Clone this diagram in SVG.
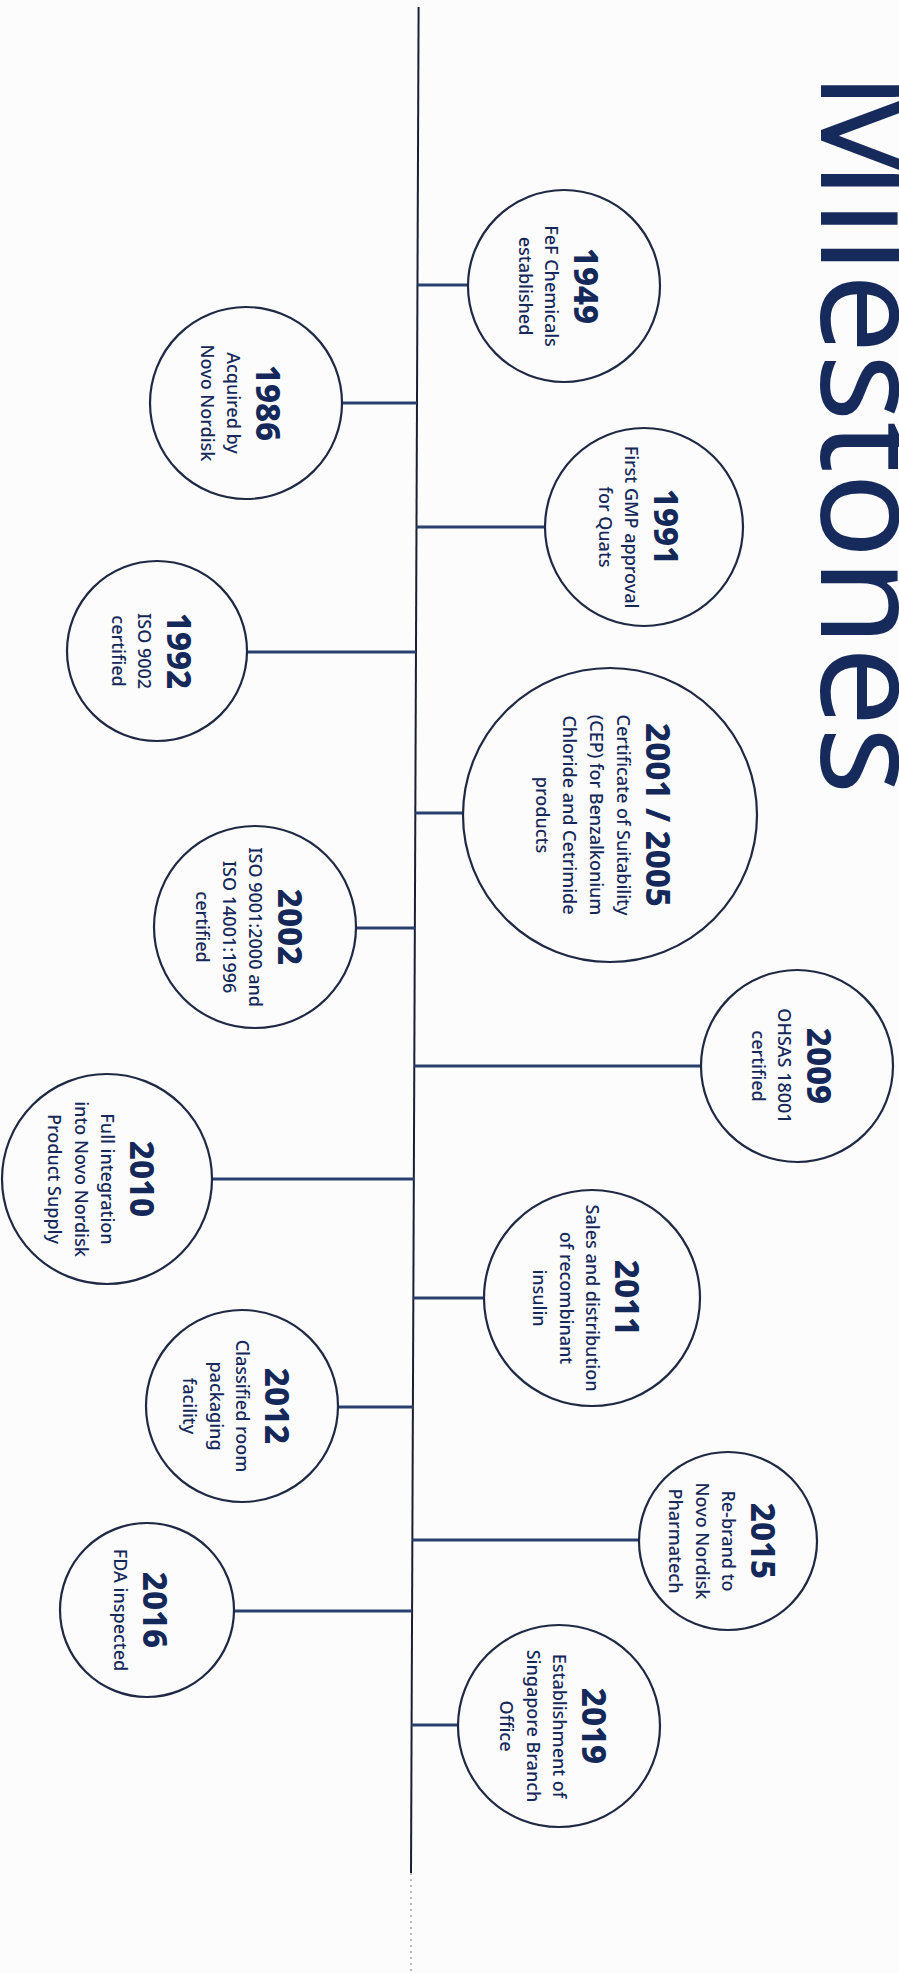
<svg xmlns="http://www.w3.org/2000/svg" width="899" height="1973" viewBox="0 0 899 1973">
<style>
.bg{fill:#fcfcfd}
.ring{fill:none;stroke:#1f2944;stroke-width:2.2}
.conn{stroke:#29406e;stroke-width:3.2;fill:none}
.axis{stroke:#1a1f33;stroke-width:2;fill:none}
.dots{stroke:#8a8f99;stroke-width:1.2;stroke-dasharray:2 4;fill:none}
.yr{font-family:"Noto Sans","Open Sans",sans-serif;font-weight:800;font-size:33px;fill:#15285a;text-anchor:middle}
.tx{font-family:"Noto Sans","Open Sans",sans-serif;font-weight:500;font-size:18px;fill:#15285a;text-anchor:middle}
.title{font-family:"Noto Sans","Open Sans",sans-serif;font-size:142px;fill:#172a5c;text-anchor:middle}
</style>
<rect class="bg" x="0" y="0" width="899" height="1973"/>
<g id="title">
<text class="title" transform="translate(821,433) rotate(90)" x="0" y="0">Milestones</text>
</g>
<g id="connectors">
<line class="axis" x1="418.6" y1="7" x2="411" y2="1873"/>
<line class="dots" x1="411" y1="1873" x2="411" y2="1973"/>
<line class="conn" x1="417.5" y1="285" x2="468" y2="285"/>
<line class="conn" x1="342" y1="403" x2="417" y2="403"/>
<line class="conn" x1="416.5" y1="527" x2="545" y2="527"/>
<line class="conn" x1="247" y1="652" x2="416" y2="652"/>
<line class="conn" x1="415.3" y1="813" x2="463" y2="813"/>
<line class="conn" x1="355" y1="928" x2="415" y2="928"/>
<line class="conn" x1="414.3" y1="1066" x2="701" y2="1066"/>
<line class="conn" x1="212" y1="1179" x2="414" y2="1179"/>
<line class="conn" x1="413.3" y1="1298" x2="484" y2="1298"/>
<line class="conn" x1="338" y1="1407" x2="413" y2="1407"/>
<line class="conn" x1="412.4" y1="1540" x2="640" y2="1540"/>
<line class="conn" x1="234" y1="1611" x2="412" y2="1611"/>
<line class="conn" x1="411.6" y1="1725" x2="458" y2="1725"/>
</g>
<g id="m1949">
<circle class="ring" cx="564" cy="286" r="96"/>
<g transform="translate(564,286) rotate(90)">
<text class="yr" x="0" y="-10">1949</text>
<text class="tx" x="0" y="19">FeF Chemicals</text>
<text class="tx" x="0" y="45.5">established</text>
</g>
</g>
<g id="m1986">
<circle class="ring" cx="246" cy="403" r="96"/>
<g transform="translate(246,403) rotate(90)">
<text class="yr" x="0" y="-10">1986</text>
<text class="tx" x="0" y="19">Acquired by</text>
<text class="tx" x="0" y="45.5">Novo Nordisk</text>
</g>
</g>
<g id="m1991">
<circle class="ring" cx="644" cy="527" r="99"/>
<g transform="translate(644,527) rotate(90)">
<text class="yr" x="0" y="-10">1991</text>
<text class="tx" x="0" y="19">First GMP approval</text>
<text class="tx" x="0" y="45.5">for Quats</text>
</g>
</g>
<g id="m1992">
<circle class="ring" cx="157" cy="651" r="90"/>
<g transform="translate(157,651) rotate(90)">
<text class="yr" x="0" y="-10">1992</text>
<text class="tx" x="0" y="19">ISO 9002</text>
<text class="tx" x="0" y="45.5">certified</text>
</g>
</g>
<g id="m2001">
<circle class="ring" cx="610" cy="815" r="147"/>
<g transform="translate(610,815) rotate(90)">
<text class="yr" x="0" y="-36">2001 / 2005</text>
<text class="tx" x="0" y="-7">Certificate of Suitability</text>
<text class="tx" x="0" y="20">(CEP) for Benzalkonium</text>
<text class="tx" x="0" y="47">Chloride and Cetrimide</text>
<text class="tx" x="0" y="74">products</text>
</g>
</g>
<g id="m2002">
<circle class="ring" cx="255" cy="927" r="101"/>
<g transform="translate(255,927) rotate(90)">
<text class="yr" x="0" y="-23">2002</text>
<text class="tx" x="0" y="6">ISO 9001:2000 and</text>
<text class="tx" x="0" y="32.5">ISO 14001:1996</text>
<text class="tx" x="0" y="59">certified</text>
</g>
</g>
<g id="m2009">
<circle class="ring" cx="797" cy="1066" r="96"/>
<g transform="translate(797,1066) rotate(90)">
<text class="yr" x="0" y="-10">2009</text>
<text class="tx" x="0" y="19">OHSAS 18001</text>
<text class="tx" x="0" y="45.5">certified</text>
</g>
</g>
<g id="m2010">
<circle class="ring" cx="107" cy="1179" r="105"/>
<g transform="translate(107,1179) rotate(90)">
<text class="yr" x="0" y="-23">2010</text>
<text class="tx" x="0" y="6">Full integration</text>
<text class="tx" x="0" y="32.5">into Novo Nordisk</text>
<text class="tx" x="0" y="59">Product Supply</text>
</g>
</g>
<g id="m2011">
<circle class="ring" cx="592" cy="1298" r="108"/>
<g transform="translate(592,1298) rotate(90)">
<text class="yr" x="0" y="-23">2011</text>
<text class="tx" x="0" y="6">Sales and distribution</text>
<text class="tx" x="0" y="32.5">of recombinant</text>
<text class="tx" x="0" y="59">insulin</text>
</g>
</g>
<g id="m2012">
<circle class="ring" cx="242" cy="1406" r="96"/>
<g transform="translate(242,1406) rotate(90)">
<text class="yr" x="0" y="-23">2012</text>
<text class="tx" x="0" y="6">Classified room</text>
<text class="tx" x="0" y="32.5">packaging</text>
<text class="tx" x="0" y="59">facility</text>
</g>
</g>
<g id="m2015">
<circle class="ring" cx="728" cy="1541" r="89"/>
<g transform="translate(728,1541) rotate(90)">
<text class="yr" x="0" y="-23">2015</text>
<text class="tx" x="0" y="6">Re-brand to</text>
<text class="tx" x="0" y="32.5">Novo Nordisk</text>
<text class="tx" x="0" y="59">Pharmatech</text>
</g>
</g>
<g id="m2016">
<circle class="ring" cx="147" cy="1610" r="87"/>
<g transform="translate(147,1610) rotate(90)">
<text class="yr" x="0" y="4">2016</text>
<text class="tx" x="0" y="33">FDA inspected</text>
</g>
</g>
<g id="m2019">
<circle class="ring" cx="559" cy="1726" r="101"/>
<g transform="translate(559,1726) rotate(90)">
<text class="yr" x="0" y="-23">2019</text>
<text class="tx" x="0" y="6">Establishment of</text>
<text class="tx" x="0" y="32.5">Singapore Branch</text>
<text class="tx" x="0" y="59">Office</text>
</g>
</g>
</svg>
